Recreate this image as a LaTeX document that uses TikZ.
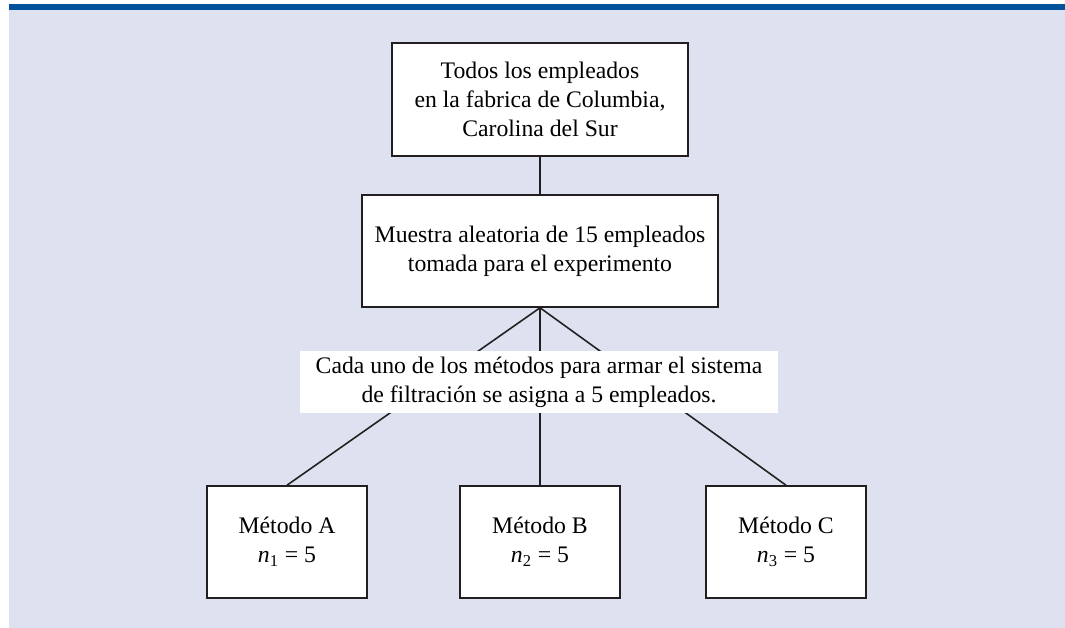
\documentclass[tikz,border=0pt]{standalone}
\usepackage{fontspec}
\setmainfont{Liberation Serif}
\usepackage{tikz}
\usetikzlibrary{positioning,calc}
\usepackage{xcolor}
\definecolor{panelbg}{RGB}{222,226,240}
\definecolor{panelbar}{RGB}{0,82,155}
\definecolor{boxline}{RGB}{35,31,32}
\tikzset{
    stage/.style={rectangle, draw=boxline, fill=white, line width=0.9pt, inner sep=0pt,
        align=center, font=\fontsize{13.5}{16.5}\selectfont},
    method/.style={stage, minimum width=3.2cm, minimum height=2.24cm},
    note/.style={rectangle, fill=white, inner sep=0pt, align=center,
        minimum width=9.56cm, minimum height=1.24cm, font=\fontsize{13.5}{16.5}\selectfont},
    branch/.style={line width=0.9pt, boxline},
}

\begin{document}
\begin{tikzpicture}[x=0.02cm, y=-0.02cm]
    \useasboundingbox (0,0) rectangle (1065,628);
    \fill[white] (0,0) rectangle (1065,628);
    \fill[panelbg] (9,10) rectangle (1065,628);
    \fill[panelbar] (9,4) rectangle (1065,10);

    \node[stage, minimum width=5.92cm, minimum height=2.26cm] (pop) at (540,99.5)
        {Todos los empleados\\en la fabrica de Columbia,\\Carolina del Sur};
    \node[stage, minimum width=7.12cm, minimum height=2.24cm] (sample) at (540,251)
        {Muestra aleatoria de 15 empleados\\tomada para el experimento};

    \node[method] (mA) at (287,542) {Método A\\\textit{n}\textsubscript{1} = 5};
    \node[method] (mB) at (540,542) {Método B\\\textit{n}\textsubscript{2} = 5};
    \node[method] (mC) at (786,542) {Método C\\\textit{n}\textsubscript{3} = 5};

    \draw[branch] (pop) -- (sample);
    \draw[branch] (sample.south) -- (mA.north);
    \draw[branch] (sample.south) -- (mB.north);
    \draw[branch] (sample.south) -- (mC.north);

    \node[note] (assign) at (539,382)
        {Cada uno de los métodos para armar el sistema\\de filtración se asigna a 5 empleados.};
\end{tikzpicture}
\end{document}
